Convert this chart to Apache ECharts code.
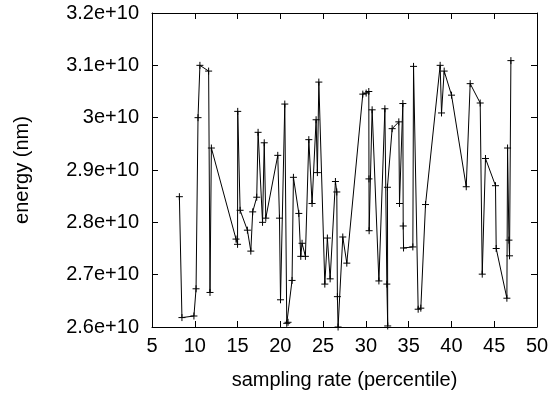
<!DOCTYPE html>
<html>
<head>
<meta charset="utf-8">
<script src="https://cdn.jsdelivr.net/npm/echarts@6/dist/echarts.min.js"></script>
<style>
html,body{margin:0;padding:0;background:#fff;}
#chart{width:552px;height:395px;}
</style>
</head>
<body>
<div id="chart"></div>
<script>
// sampling rate (percentile)
var samplingRate = [
  8.2, 8.5, 9.9, 10.15, 10.38, 10.6, 11.62, 11.78, 11.94,
  14.82, 15.0, 15.02, 15.3, 16.15, 16.55, 16.77, 17.24, 17.4, 17.92, 18.12, 18.3,
  19.7, 19.9, 20.02, 20.52, 20.75, 20.9, 21.37, 21.53, 22.16, 22.39, 22.54, 22.93,
  23.33, 23.71, 24.18, 24.33, 24.5, 25.2, 25.5, 25.82, 26.44, 26.6, 26.67, 26.75,
  27.3, 27.77, 29.64, 30.03, 30.34, 30.36, 30.38, 30.73, 31.52, 32.22, 32.45, 32.55,
  32.52, 33.07, 33.85, 33.93, 34.32, 34.36, 34.4, 35.49, 35.57, 36.11, 36.42, 36.97,
  38.68, 38.84, 39.15, 40.01, 41.73, 42.19, 43.36, 43.6, 43.98, 45.15, 45.23,
  46.48, 46.56, 46.72, 46.79, 46.95
];
// energy (nm)
var energy = [
  2.849e10, 2.618e10, 2.621e10, 2.673e10, 3.0e10, 3.1e10, 3.089e10, 2.666e10, 2.942e10,
  2.768e10, 2.758e10, 3.012e10, 2.823e10, 2.785e10, 2.745e10, 2.820e10, 2.848e10, 2.972e10, 2.800e10, 2.952e10, 2.808e10,
  2.928e10, 2.808e10, 2.652e10, 3.026e10, 2.607e10, 2.609e10, 2.689e10, 2.886e10, 2.817e10, 2.735e10, 2.760e10, 2.735e10,
  2.958e10, 2.836e10, 2.996e10, 2.895e10, 3.068e10, 2.682e10, 2.770e10, 2.692e10, 2.878e10, 2.858e10, 2.658e10, 2.600e10,
  2.772e10, 2.722e10, 3.045e10, 3.047e10, 3.050e10, 2.883e10, 2.784e10, 3.015e10, 2.688e10, 3.017e10, 2.682e10, 2.602e10,
  2.867e10, 2.979e10, 2.992e10, 2.836e10, 3.027e10, 2.793e10, 2.751e10, 2.753e10, 3.098e10, 2.634e10, 2.636e10, 2.834e10,
  3.100e10, 3.009e10, 3.089e10, 3.043e10, 2.868e10, 3.065e10, 3.028e10, 2.701e10, 2.922e10, 2.870e10, 2.750e10,
  2.655e10, 2.942e10, 2.766e10, 2.736e10, 3.109e10
];
var xTicks = [5, 10, 15, 20, 25, 30, 35, 40, 45, 50];
var yTickLabels = ['2.6e+10', '2.7e+10', '2.8e+10', '2.9e+10', '3e+10', '3.1e+10', '3.2e+10'];

var FONT = '"Liberation Sans", Arial, sans-serif';
var points = samplingRate.map(function (x, i) { return [x, energy[i]]; });

function yLabel(v) {
  var idx = Math.round((v - 2.6e10) / 1e9);
  return yTickLabels[idx] !== undefined ? yTickLabels[idx] : '';
}

var chart = echarts.init(document.getElementById('chart'), null, {renderer: 'canvas'});
var axisLine = {show: true, lineStyle: {color: '#000', width: 1}};
var tick = {show: true, inside: true, length: 6, lineStyle: {color: '#000', width: 1}};
chart.setOption({
  animation: false,
  backgroundColor: '#fff',
  grid: {left: 152, right: 15, top: 13, bottom: 67, containLabel: false},
  xAxis: [{
    type: 'value', min: 5, max: 50, interval: 5, position: 'bottom',
    axisLine: axisLine, axisTick: tick, splitLine: {show: false},
    axisLabel: {color: '#000', fontFamily: FONT, fontSize: 20, margin: 9,
      formatter: function (v) { return xTicks.indexOf(v) >= 0 ? String(v) : ''; }},
    name: 'sampling rate (percentile)', nameLocation: 'middle', nameGap: 43,
    nameTextStyle: {color: '#000', fontFamily: FONT, fontSize: 20}
  }, {
    type: 'value', min: 5, max: 50, interval: 5, position: 'top',
    axisLine: axisLine, axisTick: tick, splitLine: {show: false}, axisLabel: {show: false}
  }],
  yAxis: [{
    type: 'value', min: 2.6e10, max: 3.2e10, interval: 1e9, position: 'left',
    axisLine: axisLine, axisTick: tick, splitLine: {show: false},
    axisLabel: {color: '#000', fontFamily: FONT, fontSize: 20, margin: 13, formatter: yLabel},
    name: 'energy (nm)', nameLocation: 'middle', nameGap: 120, nameRotate: 90,
    nameTextStyle: {color: '#000', fontFamily: FONT, fontSize: 20}
  }, {
    type: 'value', min: 2.6e10, max: 3.2e10, interval: 1e9, position: 'right',
    axisLine: axisLine, axisTick: tick, splitLine: {show: false}, axisLabel: {show: false}
  }],
  series: [{
    type: 'line',
    data: points,
    xAxisIndex: 0, yAxisIndex: 0,
    lineStyle: {color: '#000', width: 1},
    symbol: 'path://M-1,0L1,0M0,-1L0,1',
    symbolSize: 7,
    showAllSymbol: true,
    itemStyle: {color: 'none', borderColor: '#000', borderWidth: 1},
    emphasis: {disabled: true}
  }]
});
</script>
</body>
</html>
